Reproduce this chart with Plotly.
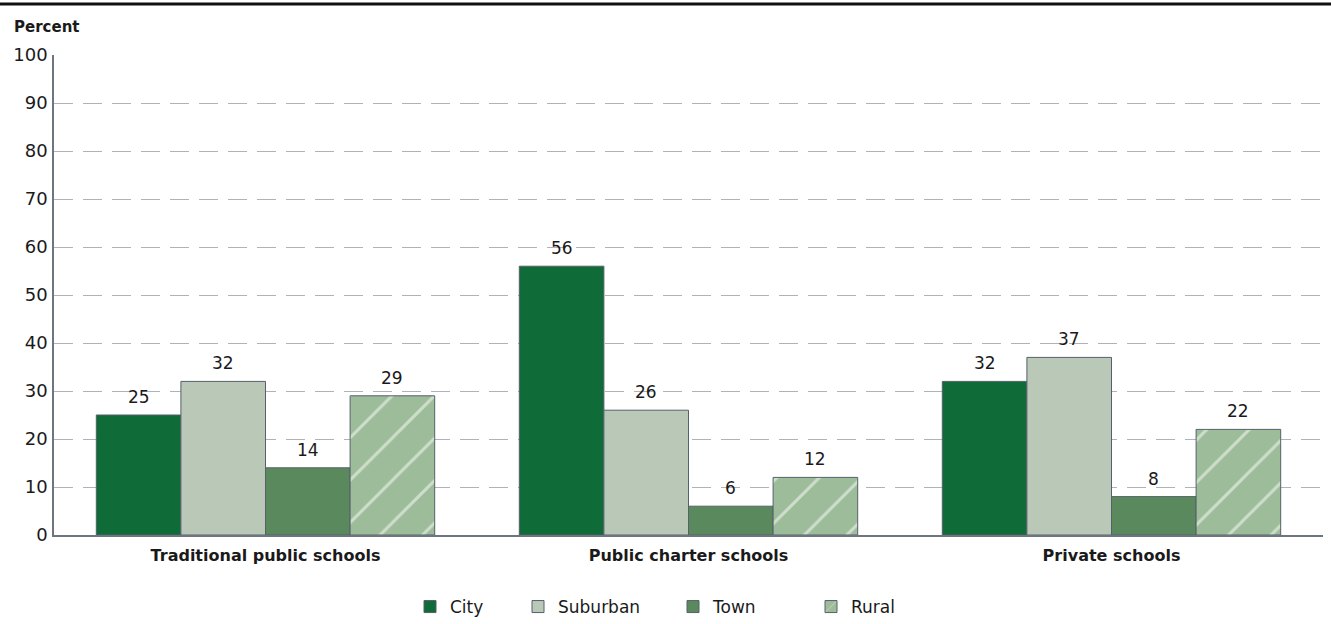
import plotly.graph_objects as go

# Share of students by school locale, per school type
categories = ["Traditional public schools", "Public charter schools", "Private schools"]
city = [25, 56, 32]
suburban = [32, 26, 37]
town = [14, 6, 8]
rural = [29, 12, 22]
y_ticks = list(range(0, 101, 10))

FONT = "'DejaVu Sans', Verdana, sans-serif"
TEXT = "#1a1a1a"
EDGE = "#56606b"

series = [
    ("City", city, "#0f6b37", None),
    ("Suburban", suburban, "#bac9b7", None),
    ("Town", town, "#5b895e", None),
    ("Rural", rural, "#9dbc99", "/"),
]
legend_ids = ["legend", "legend2", "legend3", "legend4"]
legend_x = [410, 518, 673, 811]  # left edge of each legend entry, px

W, H = 1331, 624
MARGIN = dict(l=54, r=8, t=55, b=89)
BARGAP = 0.2
plot_w = W - MARGIN["l"] - MARGIN["r"]
n_cat = len(categories)
bar_px = plot_w / n_cat * (1 - BARGAP) / len(series)

fig = go.Figure()
for i, ((name, vals, color, shape), lid) in enumerate(zip(series, legend_ids)):
    marker = dict(color=color, line=dict(color=EDGE, width=1))
    if shape:
        marker["pattern"] = dict(shape=shape, fgcolor="white", bgcolor=color,
                                 size=30, solidity=0.1, fillmode="overlay")
    fig.add_trace(go.Bar(name=name, x=categories, y=vals, marker=marker, legend=lid))
    # value label above each bar of this series
    shift = (i - (len(series) - 1) / 2) * bar_px
    for cat, v in zip(categories, vals):
        fig.add_annotation(x=cat, y=v, text=str(v), showarrow=False,
                           xshift=shift, yshift=6, yanchor="bottom",
                           font=dict(size=17, color=TEXT, family=FONT))

layout_legends = {}
for lid, lx in zip(legend_ids, legend_x):
    layout_legends[lid] = dict(
        orientation="h", xref="container", yref="container",
        x=lx / W, xanchor="left", y=1 - 607 / H, yanchor="middle",
        font=dict(size=17, color=TEXT, family=FONT),
        bgcolor="rgba(0,0,0,0)", itemclick=False, itemdoubleclick=False,
    )

fig.update_layout(
    width=W, height=H,
    margin=dict(**MARGIN, autoexpand=False),
    plot_bgcolor="white", paper_bgcolor="white",
    barmode="group", bargap=BARGAP, bargroupgap=0,
    showlegend=True,
    font=dict(family=FONT, size=16, color=TEXT),
    **layout_legends,
)

fig.update_yaxes(
    range=[0, 100], tickvals=y_ticks, ticktext=[str(t) for t in y_ticks],
    showgrid=True, gridcolor="#aeb3ba", gridwidth=1, griddash="19px,10px",
    zeroline=False, showline=True, linecolor="#6d7580", linewidth=1.5,
    ticks="", ticklabelstandoff=1, tickfont=dict(size=18, color=TEXT, family=FONT),
)
fig.update_xaxes(
    range=[-0.5, 2.5], showline=True, linecolor="#6d7580", linewidth=1.5,
    ticks="", showgrid=False, ticklabelstandoff=5,
    tickfont=dict(size=16, color=TEXT, family=FONT),
    tickvals=categories, ticktext=[f"<b>{c}</b>" for c in categories],
)

# Heavy rule across the top of the figure
fig.add_shape(type="line", xref="paper", yref="paper",
              x0=-54 / plot_w, x1=(W - 54) / plot_w, y0=1 + 51 / 480, y1=1 + 51 / 480,
              line=dict(color="#111111", width=3))

fig.add_annotation(text="<b>Percent</b>", xref="paper", yref="paper",
                   x=-42 / plot_w, y=1 + 28 / 480, xanchor="left", yanchor="middle",
                   showarrow=False, font=dict(size=15, color=TEXT, family=FONT))

fig.write_html("out.html")
